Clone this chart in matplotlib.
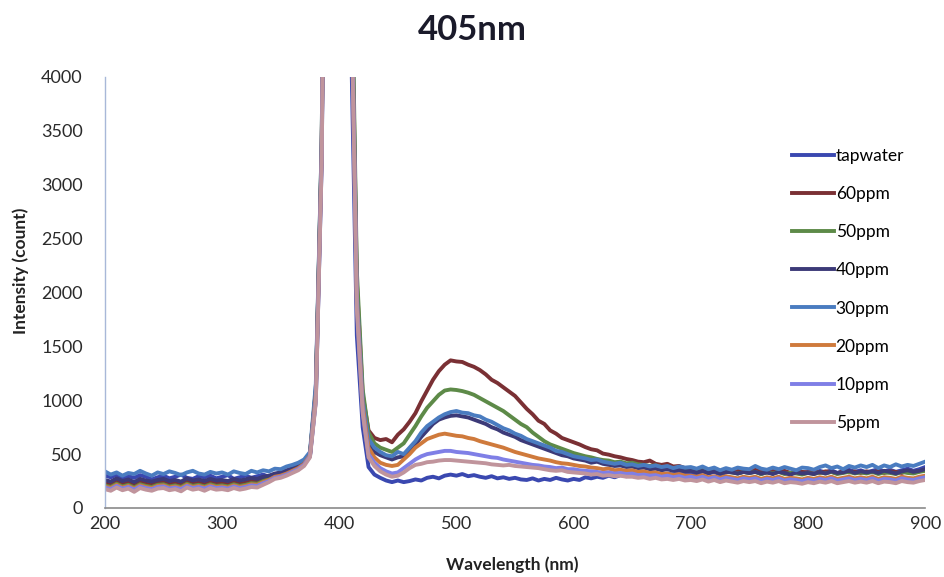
import numpy as np
import matplotlib
matplotlib.use('Agg')
import matplotlib.pyplot as plt

plt.rcParams['font.family'] = ['Lato', 'DejaVu Sans']

# wavelength grid, 5 nm steps
wavelength = np.arange(200, 905, 5)

tapwater = [
    300, 285, 310, 270, 295, 280, 305, 290, 265, 285,
    300, 275, 290, 310, 280, 270, 295, 285, 300, 275,
    290, 305, 270, 285, 300, 280, 295, 310, 290, 305,
    320, 335, 350, 380, 420, 480, 1000, 3200, 8500, 14000,
    17000, 16500, 4400, 1600, 750, 380, 310, 280, 255, 240,
    255, 240, 250, 265, 255, 280, 290, 275, 300, 310,
    300, 315, 295, 305, 290, 280, 295, 275, 285, 270,
    280, 265, 260, 275, 255, 270, 260, 280, 265, 255,
    270, 260, 285, 275, 290, 280, 300, 285, 305, 295,
    310, 290, 315, 300, 325, 305, 320, 310, 330, 315,
    330, 315, 340, 320, 335, 310, 330, 345, 320, 335,
    325, 340, 315, 335, 320, 345, 330, 315, 340, 325,
    335, 320, 345, 330, 350, 325, 340, 355, 335, 350,
    330, 345, 360, 340, 355, 335, 350, 365, 345, 360,
    380]

ppm60 = [
    230, 215, 245, 220, 235, 210, 240, 225, 215, 235,
    240, 220, 230, 215, 245, 225, 235, 220, 240, 225,
    230, 220, 240, 225, 235, 250, 245, 270, 285, 310,
    320, 340, 360, 385, 425, 500, 1080, 3350, 9000, 15000,
    18000, 17500, 5300, 2100, 1050, 720, 650, 630, 640, 610,
    680, 730, 800, 880, 990, 1090, 1190, 1270, 1330, 1370,
    1360, 1355, 1330, 1310, 1280, 1240, 1190, 1160, 1120, 1080,
    1040, 980, 920, 870, 810, 780, 720, 690, 650, 630,
    610, 590, 565, 545, 535, 505, 495, 480, 470, 455,
    445, 430, 425, 440, 410, 400, 410, 385, 390, 370,
    365, 355, 370, 345, 360, 340, 355, 335, 350, 345,
    335, 355, 340, 330, 350, 335, 345, 325, 340, 335,
    330, 345, 325, 340, 335, 320, 345, 330, 340, 325,
    340, 330, 345, 325, 340, 335, 325, 345, 335, 340,
    355]

ppm50 = [
    210, 195, 225, 200, 215, 190, 220, 205, 195, 215,
    220, 200, 210, 195, 225, 205, 215, 200, 220, 205,
    210, 200, 220, 205, 215, 230, 225, 250, 270, 300,
    310, 330, 355, 380, 420, 500, 1100, 3400, 9200, 15500,
    18500, 18000, 5500, 2200, 1100, 700, 600, 560, 540, 520,
    560, 600, 680, 760, 850, 930, 990, 1050, 1090, 1100,
    1095, 1085, 1070, 1050, 1020, 990, 960, 930, 900, 860,
    820, 780, 750, 700, 660, 620, 590, 570, 550, 530,
    510, 495, 480, 470, 455, 445, 440, 425, 430, 415,
    420, 405, 400, 390, 395, 380, 375, 365, 370, 355,
    350, 340, 355, 335, 345, 325, 340, 330, 320, 335,
    325, 335, 315, 330, 320, 335, 315, 325, 320, 310,
    325, 315, 330, 320, 335, 315, 325, 335, 320, 330,
    320, 335, 315, 330, 325, 315, 335, 325, 320, 335,
    345]

ppm40 = [
    260, 245, 275, 250, 265, 240, 270, 255, 245, 260,
    270, 250, 260, 245, 275, 255, 265, 250, 270, 255,
    260, 250, 270, 255, 265, 280, 270, 290, 300, 320,
    330, 350, 370, 390, 430, 490, 1100, 3300, 8800, 14500,
    17500, 17000, 5000, 1900, 950, 600, 520, 490, 470, 450,
    470, 480, 520, 590, 660, 720, 780, 820, 840, 855,
    860, 850, 840, 820, 800, 780, 750, 730, 700, 680,
    660, 630, 610, 590, 570, 550, 530, 510, 490, 480,
    460, 450, 440, 420, 430, 410, 400, 390, 395, 380,
    385, 370, 375, 360, 365, 350, 360, 345, 355, 340,
    345, 330, 345, 325, 340, 320, 335, 330, 320, 335,
    325, 335, 320, 330, 315, 335, 325, 310, 330, 320,
    325, 315, 335, 320, 340, 325, 330, 345, 325, 340,
    330, 340, 325, 345, 335, 320, 340, 350, 335, 345,
    360]

ppm30 = [
    340, 310, 330, 300, 325, 315, 345, 320, 300, 330,
    315, 340, 325, 305, 330, 345, 320, 310, 335, 320,
    330, 310, 340, 325, 315, 345, 330, 350, 340, 365,
    360, 385, 400, 420, 450, 520, 1150, 3400, 9000, 15000,
    18000, 17500, 5200, 2000, 1000, 640, 560, 520, 490, 480,
    520, 500, 560, 620, 700, 760, 800, 840, 870, 890,
    900, 885, 880, 860, 850, 820, 800, 770, 740, 720,
    690, 670, 640, 620, 600, 580, 560, 530, 520, 500,
    480, 470, 460, 445, 450, 430, 420, 410, 420, 400,
    405, 390, 400, 385, 395, 380, 390, 370, 385, 375,
    380, 365, 385, 360, 375, 350, 370, 355, 375, 365,
    360, 390, 365, 355, 375, 360, 380, 365, 350, 375,
    370, 355, 380, 395, 370, 385, 360, 390, 375, 395,
    380, 400, 370, 395, 380, 405, 385, 400, 390, 410,
    430]

ppm20 = [
    200, 185, 215, 190, 205, 180, 210, 195, 185, 205,
    210, 190, 200, 185, 215, 195, 205, 190, 210, 195,
    200, 190, 210, 195, 205, 220, 215, 240, 260, 290,
    300, 320, 345, 370, 410, 490, 1050, 3300, 8900, 15000,
    18000, 17500, 5100, 1950, 950, 560, 470, 420, 400, 390,
    400, 450, 500, 560, 600, 640, 660, 680, 690, 680,
    670, 665, 650, 640, 620, 605, 590, 575, 560, 540,
    520, 505, 490, 475, 460, 450, 440, 425, 415, 410,
    400, 390, 385, 375, 370, 360, 365, 350, 355, 345,
    350, 335, 340, 325, 330, 315, 320, 305, 315, 300,
    300, 290, 305, 285, 295, 280, 295, 285, 275, 290,
    280, 290, 270, 285, 275, 290, 270, 280, 275, 265,
    280, 270, 285, 275, 290, 270, 280, 290, 275, 285,
    275, 290, 270, 285, 280, 270, 290, 280, 275, 290,
    300]

ppm10 = [
    190, 175, 205, 180, 195, 170, 200, 185, 175, 195,
    200, 180, 190, 175, 205, 185, 195, 180, 200, 185,
    190, 180, 200, 185, 195, 210, 205, 230, 250, 280,
    290, 310, 335, 360, 400, 480, 1000, 3250, 8800, 14800,
    17800, 17300, 5000, 1900, 900, 500, 420, 370, 340, 320,
    330, 370, 410, 450, 480, 500, 510, 520, 530, 530,
    520, 515, 510, 500, 490, 480, 470, 465, 450, 440,
    430, 420, 410, 400, 395, 385, 380, 370, 375, 360,
    360, 350, 345, 340, 335, 325, 330, 320, 325, 315,
    320, 305, 310, 300, 305, 290, 300, 285, 295, 280,
    290, 275, 290, 270, 285, 265, 280, 270, 260, 275,
    265, 275, 255, 270, 260, 275, 255, 265, 260, 250,
    265, 255, 270, 260, 275, 255, 265, 275, 260, 270,
    260, 275, 255, 270, 265, 255, 275, 265, 260, 275,
    285]

ppm5 = [
    175, 160, 190, 165, 180, 150, 185, 170, 160, 180,
    185, 165, 175, 155, 190, 170, 180, 160, 185, 170,
    175, 165, 185, 170, 180, 195, 190, 215, 240, 270,
    280, 300, 325, 350, 390, 470, 980, 3200, 8700, 14600,
    17600, 17100, 4900, 1850, 880, 470, 390, 340, 310, 290,
    300, 330, 370, 400, 410, 425, 430, 440, 445, 445,
    440, 435, 430, 425, 420, 415, 405, 400, 395, 400,
    390, 385, 380, 375, 370, 360, 350, 345, 350, 335,
    330, 325, 320, 310, 315, 300, 305, 295, 300, 290,
    290, 280, 285, 270, 280, 265, 270, 260, 270, 255,
    260, 250, 265, 245, 260, 240, 255, 245, 235, 250,
    240, 250, 230, 245, 235, 250, 230, 240, 235, 225,
    240, 230, 245, 235, 250, 230, 240, 250, 235, 245,
    235, 250, 230, 245, 240, 230, 250, 240, 235, 250,
    260]

labels = ['tapwater', '60ppm', '50ppm', '40ppm', '30ppm', '20ppm', '10ppm', '5ppm']
series = [tapwater, ppm60, ppm50, ppm40, ppm30, ppm20, ppm10, ppm5]
colors = ['#3a48b0', '#7a3034', '#5d8a48', '#3c3a78', '#4a7cc0', '#cf7a3c', '#7f7fe6', '#c0949c']

fig = plt.figure(figsize=(9.45, 5.77), dpi=100)
ax = fig.add_axes([0.111, 0.1196, 0.868, 0.747])

for y, lab, c in zip(series, labels, colors):
    ax.plot(wavelength, y, color=c, lw=2.8, label=lab)

ax.set_xlim(200, 900)
ax.set_ylim(0, 4000)
ax.set_xticks(range(200, 901, 100))
ax.set_yticks(range(0, 4001, 500))
ax.tick_params(length=0, labelsize=13, colors='#2a2a2a')
ax.tick_params(axis='y', pad=16)
ax.tick_params(axis='x', pad=6)

for s in ['top', 'right']:
    ax.spines[s].set_visible(False)
ax.spines['left'].set_color('#a8b8d8')
ax.spines['bottom'].set_color('#8a8a8a')
ax.spines['left'].set_linewidth(1.0)
ax.spines['bottom'].set_linewidth(1.2)

ax.set_xlabel('Wavelength (nm)', fontsize=12.5, fontweight='bold', color='#222222')
ax.set_ylabel('Intensity (count)', fontsize=12.5, fontweight='bold', color='#222222')
ax.xaxis.set_label_coords(0.5 - 3 / 820, -0.112)
ax.yaxis.set_label_coords(-0.093, 0.5 + 22 / 431)
fig.suptitle('405nm', fontsize=25, fontweight='bold', color='#1a1a2a', y=0.975)

fig.legend(loc='upper left', bbox_to_anchor=(0.831, 0.755), frameon=False,
           fontsize=12.5, handlelength=2.4, handletextpad=0.1, labelspacing=1.27,
           borderaxespad=0)

fig.savefig('out.png', dpi=100)
